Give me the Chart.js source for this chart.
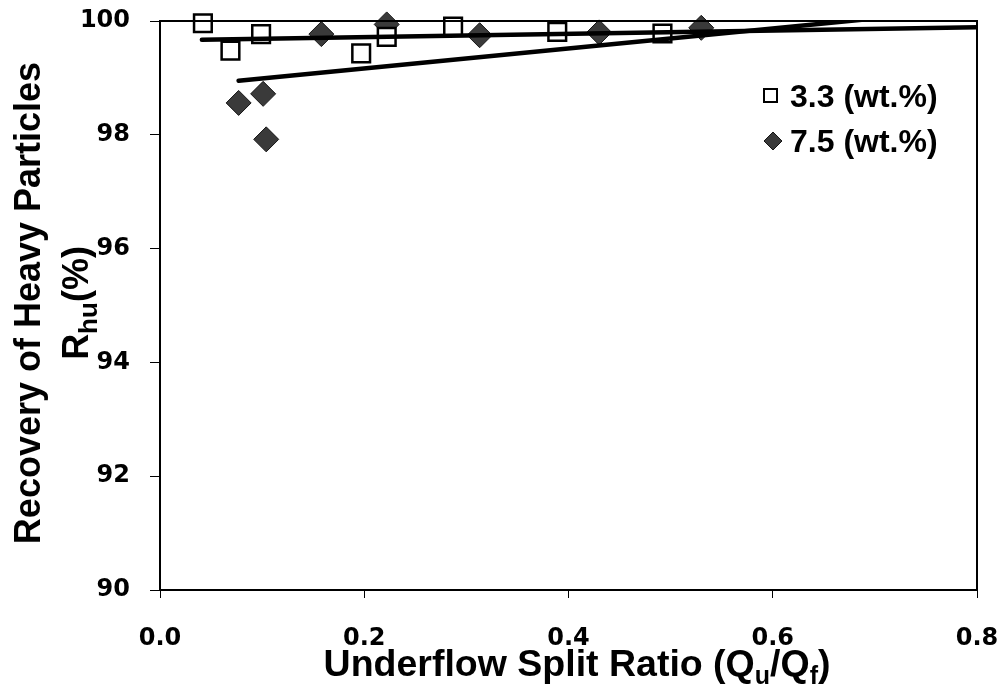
<!DOCTYPE html>
<html lang="en">
<head>
  <meta charset="UTF-8">
  <title>Recovery of Heavy Particles</title>
  <script src="https://cdn.jsdelivr.net/npm/chart.js@4.4.0/dist/chart.umd.min.js"></script>
  <style>
    body { margin: 0; background: #fff; }
    #wrap { width: 1002px; height: 684px; position: relative; }
  </style>
</head>
<body>
  <div id="wrap"><canvas id="chart"></canvas></div>
  <script>
    // measured points, 3.3 wt.%
    const x33 = [0.042, 0.069, 0.099, 0.197, 0.222, 0.287, 0.389, 0.492];
    const y33 = [99.96, 99.48, 99.77, 99.43, 99.72, 99.90, 99.81, 99.78];
    // measured points, 7.5 wt.%
    const x75 = [0.077, 0.101, 0.104, 0.158, 0.222, 0.313, 0.430, 0.530];
    const y75 = [98.56, 98.72, 97.92, 99.77, 99.94, 99.75, 99.80, 99.88];
    // trend lines (end points)
    const fit33X = [0.041, 0.800];
    const fit33Y = [99.67, 99.89];
    const fit75X = [0.077, 0.800];
    const fit75Y = [98.95, 100.22];

    const xTicks = [0, 0.2, 0.4, 0.6, 0.8];
    const yTicks = [90, 92, 94, 96, 98, 100];
    const legendLabels = ['3.3 (wt.%)', '7.5 (wt.%)'];

    const pts = (xs, ys) => xs.map((x, i) => ({ x: x, y: ys[i] }));

    // draw text with subscript parts, centred on (0,0)
    function richText(ctx, parts, big, small, drop) {
      let w = 0;
      parts.forEach(p => {
        ctx.font = 'bold ' + (p.sub ? small : big) + 'px "Liberation Sans", Arial, sans-serif';
        p.w = ctx.measureText(p.t).width;
        w += p.w;
      });
      let x = -w / 2;
      ctx.textAlign = 'left';
      ctx.textBaseline = 'alphabetic';
      parts.forEach(p => {
        ctx.font = 'bold ' + (p.sub ? small : big) + 'px "Liberation Sans", Arial, sans-serif';
        ctx.fillText(p.t, x, p.sub ? drop : 0);
        x += p.w;
      });
    }

    const decorations = {
      id: 'decorations',
      afterDraw(chart) {
        const ctx = chart.ctx;
        const a = chart.chartArea;
        ctx.save();
        // plot box
        ctx.strokeStyle = '#000';
        ctx.lineWidth = 2;
        ctx.strokeRect(a.left, a.top, a.right - a.left, a.bottom - a.top);

        ctx.fillStyle = '#000';
        // x axis title
        ctx.save();
        ctx.translate(577, 676);
        richText(ctx, [
          { t: 'Underflow Split Ratio (Q' }, { t: 'u', sub: true },
          { t: '/Q' }, { t: 'f', sub: true }, { t: ')' }
        ], 37.5, 25, 8);
        ctx.restore();

        // y axis title, two lines
        ctx.save();
        ctx.translate(40, 303);
        ctx.rotate(-Math.PI / 2);
        richText(ctx, [{ t: 'Recovery of Heavy Particles' }], 36, 25, 8);
        ctx.restore();
        ctx.save();
        ctx.translate(88, 303);
        ctx.rotate(-Math.PI / 2);
        richText(ctx, [{ t: 'R' }, { t: 'hu', sub: true }, { t: '(%)' }], 36, 26, 9);
        ctx.restore();

        // legend inside plot
        const sq = chart.data.datasets[2];
        const dm = chart.data.datasets[3];
        ctx.lineWidth = 2;
        ctx.fillStyle = sq.backgroundColor;
        ctx.strokeStyle = sq.borderColor;
        ctx.fillRect(764, 89, 13, 13);
        ctx.strokeRect(764, 89, 13, 13);
        ctx.beginPath();
        ctx.moveTo(773, 132);
        ctx.lineTo(782, 141);
        ctx.lineTo(773, 150);
        ctx.lineTo(764, 141);
        ctx.closePath();
        ctx.fillStyle = dm.backgroundColor;
        ctx.fill();
        ctx.lineWidth = 1;
        ctx.strokeStyle = dm.borderColor;
        ctx.stroke();

        ctx.fillStyle = '#000';
        ctx.font = 'bold 32px "Liberation Sans", Arial, sans-serif';
        ctx.textAlign = 'left';
        ctx.textBaseline = 'alphabetic';
        ctx.fillText(legendLabels[0], 790, 107);
        ctx.fillText(legendLabels[1], 790, 152);
        ctx.restore();
      }
    };

    const tickFont = { family: '"DejaVu Sans", sans-serif', size: 24, weight: 'bold' };

    new Chart(document.getElementById('chart'), {
      type: 'scatter',
      data: {
        datasets: [
          {
            label: 'fit 3.3',
            data: pts(fit33X, fit33Y),
            showLine: true,
            borderColor: '#000',
            borderWidth: 4.5,
            pointRadius: 0,
            borderCapStyle: 'round',
            clip: 0
          },
          {
            label: 'fit 7.5',
            data: pts(fit75X, fit75Y),
            showLine: true,
            borderColor: '#000',
            borderWidth: 4.5,
            pointRadius: 0,
            borderCapStyle: 'round',
            clip: 0
          },
          {
            label: legendLabels[0],
            data: pts(x33, y33),
            pointStyle: 'rect',
            pointRadius: 12.5,
            backgroundColor: '#fff',
            borderColor: '#000',
            borderWidth: 2.5,
            clip: false
          },
          {
            label: legendLabels[1],
            data: pts(x75, y75),
            pointStyle: 'rectRot',
            pointRadius: 12.5,
            backgroundColor: '#3a3a3a',
            borderColor: '#151515',
            borderWidth: 1,
            clip: false
          }
        ]
      },
      options: {
        responsive: true,
        maintainAspectRatio: false,
        animation: false,
        layout: { padding: { top: 21, right: 25, left: 0, bottom: 0 } },
        plugins: {
          legend: { display: false },
          tooltip: { enabled: false }
        },
        scales: {
          x: {
            type: 'linear',
            min: 0,
            max: 0.8,
            afterFit: s => {
              s.height = 94;
              s.paddingLeft = 0;
              s.paddingRight = 0;
            },
            afterBuildTicks: s => { s.ticks = xTicks.map(v => ({ value: v })); },
            ticks: {
              color: '#000',
              font: tickFont,
              padding: 26,
              maxRotation: 0,
              callback: v => v.toFixed(1)
            },
            grid: {
              drawOnChartArea: false,
              tickLength: 8,
              tickColor: '#000',
              tickWidth: 1
            },
            border: { display: true, color: '#000', width: 2 }
          },
          y: {
            type: 'linear',
            min: 90,
            max: 100,
            afterFit: s => {
              s.width = 160;
              s.paddingTop = 0;
              s.paddingBottom = 0;
            },
            afterBuildTicks: s => { s.ticks = yTicks.map(v => ({ value: v })); },
            ticks: {
              color: '#000',
              font: tickFont,
              padding: 20,
              callback: v => String(v)
            },
            grid: {
              drawOnChartArea: false,
              tickLength: 10,
              tickColor: '#000',
              tickWidth: 1
            },
            border: { display: true, color: '#000', width: 2 }
          }
        }
      },
      plugins: [decorations]
    });
  </script>
</body>
</html>
